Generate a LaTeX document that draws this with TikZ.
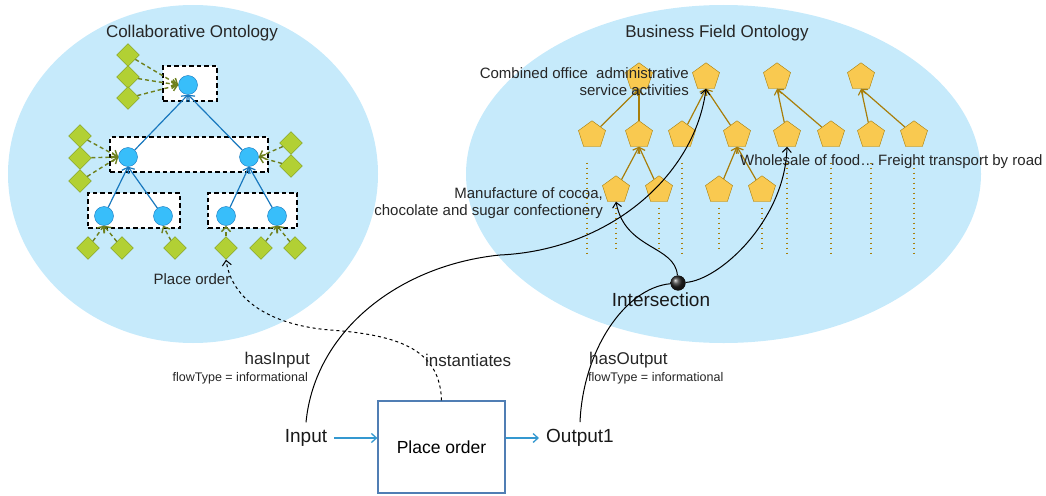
\documentclass[tikz,border=0pt]{standalone}
\usepackage{fontspec}
\setmainfont{Liberation Sans}
\usepackage{tikz}
\usepackage{xcolor}
\usetikzlibrary{shapes.geometric, arrows.meta, positioning, calc}
\definecolor{cSky}{RGB}{198,234,251}
\definecolor{cConcept}{RGB}{56,190,250}
\definecolor{cConceptLine}{RGB}{24,120,190}
\definecolor{cMember}{RGB}{178,208,52}
\definecolor{cMemberLine}{RGB}{122,150,28}
\definecolor{cOlive}{RGB}{110,128,30}
\definecolor{cSector}{RGB}{249,201,80}
\definecolor{cSectorLine}{RGB}{168,126,10}
\definecolor{cFlow}{RGB}{52,152,208}
\definecolor{cTask}{RGB}{80,126,180}
\tikzset{
	ontology/.style   ={ellipse, fill=cSky, draw=none, inner sep=0pt},
	grpbox/.style     ={rectangle, draw=black, line width=1.1pt, dash pattern=on 4.5pt off 3pt, fill=white, minimum height=35pt, inner sep=0pt},
	concept/.style    ={circle, draw=cConceptLine, fill=cConcept, minimum size=19pt, inner sep=0pt},
	member/.style     ={diamond, draw=cMemberLine, fill=cMember, minimum size=23pt, inner sep=0pt},
	sector/.style     ={regular polygon, regular polygon sides=5, draw=cSectorLine, fill=cSector, minimum size=28.5pt, inner sep=0pt},
	isectdot/.style   ={circle, minimum size=15pt, inner sep=0pt, shading=ball, ball color=black!85},
	task/.style       ={rectangle, draw=cTask, line width=1.2pt, minimum width=127pt, minimum height=92pt, align=center},
	% connectors
	subarrow/.style   ={draw=cConceptLine, line width=1.2pt, -{Straight Barb[length=5pt, width=8pt]}},
	instarrow/.style  ={draw=cOlive, line width=1.4pt, dash pattern=on 4pt off 3pt, -{Straight Barb[length=5pt, width=9pt]}},
	sectorarrow/.style={draw=cSectorLine, line width=1.2pt, -{Straight Barb[length=5pt, width=8pt]}},
	leafline/.style   ={draw=cSectorLine, line width=1.6pt, dash pattern=on 1.6pt off 3.4pt},
	relline/.style    ={draw=black, line width=1pt},
	relarrow/.style   ={draw=black, line width=1pt, -{Straight Barb[length=5pt, width=9pt]}},
	flowsig/.style    ={draw=cFlow, line width=1.3pt, -{Straight Barb[length=5pt, width=9pt]}},
	% texts
	titletxt/.style   ={font=\fontsize{17}{20}\selectfont, text=black!85},
	tagtxt/.style     ={font=\fontsize{15}{17}\selectfont, text=black!85, inner sep=0pt},
	iotxt/.style      ={font=\fontsize{19}{22}\selectfont, text=black!90, inner sep=7pt},
	reltxt/.style     ={font=\fontsize{17}{20}\selectfont, text=black!85, inner sep=0pt},
	smalltxt/.style   ={font=\fontsize{12.5}{15}\selectfont, text=black!85, inner sep=0pt},
}

\begin{document}
\begin{tikzpicture}[x=1pt, y=-1pt]
	\useasboundingbox (0,0) rectangle (1046,495);
	% the two ontologies
	\node[ontology, minimum width=370pt, minimum height=338pt] (colOnt) at (193,174) {};
	\node[ontology, minimum width=515pt, minimum height=338pt] (bizOnt) at (723.5,174) {};
	\node[titletxt] (colTitle) at (192,33) {Collaborative Ontology};
	\node[titletxt] (bizTitle) at (717,33) {Business Field Ontology};

	% collaborative ontology: groups, concepts, members
	\node[grpbox, minimum width=54pt]  (grpTop)  at (190,83.5) {};
	\node[grpbox, minimum width=158pt] (grpMid)  at (189,154.5) {};
	\node[grpbox, minimum width=92pt]  (grpLowL) at (134,210.5) {};
	\node[grpbox, minimum width=89pt]  (grpLowR) at (252.5,210.5) {};
	\node[concept] (conTop) at (188,85) {};
	\node[concept] (conL)   at (128,157) {};
	\node[concept] (conR)   at (249,157) {};
	\node[concept] (conLL)  at (104,216) {};
	\node[concept] (conLR)  at (163,216) {};
	\node[concept] (conRL)  at (226,216) {};
	\node[concept] (conRR)  at (277,216) {};
	\draw[subarrow] (conL)  -- (conTop.south);
	\draw[subarrow] (conR)  -- (conTop.south);
	\draw[subarrow] (conLL) -- (conL.south);
	\draw[subarrow] (conLR) -- (conL.south);
	\draw[subarrow] (conRL) -- (conR.south);
	\draw[subarrow] (conRR) -- (conR.south);

	\node[member] (memT1) at (128,55) {};
	\node[member] (memT2) at (128,77) {};
	\node[member] (memT3) at (128,98) {};
	\node[member] (memL1) at (80,136) {};
	\node[member] (memL2) at (80,158) {};
	\node[member] (memL3) at (80,181) {};
	\node[member] (memR1) at (291,143) {};
	\node[member] (memR2) at (291,166) {};
	\node[member] (memB1) at (88,248) {};
	\node[member] (memB2) at (122,248) {};
	\node[member] (memB3) at (175,248) {};
	\node[member] (memB4) at (226,248) {};
	\node[member] (memB5) at (261,248) {};
	\node[member] (memB6) at (295,248) {};
	\draw[instarrow] (memT1) -- (conTop.west);
	\draw[instarrow] (memT2) -- (conTop.west);
	\draw[instarrow] (memT3) -- (conTop.west);
	\draw[instarrow] (memL1) -- (conL.west);
	\draw[instarrow] (memL2) -- (conL.west);
	\draw[instarrow] (memL3) -- (conL.west);
	\draw[instarrow] (memR1) -- (conR.east);
	\draw[instarrow] (memR2) -- (conR.east);
	\draw[instarrow] (memB1) -- (conLL.south);
	\draw[instarrow] (memB2) -- (conLL.south);
	\draw[instarrow] (memB3) -- (conLR.south);
	\draw[instarrow] (memB4) -- (conRL.south);
	\draw[instarrow] (memB5) -- (conRR.south);
	\draw[instarrow] (memB6) -- (conRR.south);
	\node[tagtxt] (memName) at (192,279) {Place order};

	% business field ontology: sectors
	\node[sector] (bizA) at (639,77) {};
	\node[sector] (bizB) at (706,77) {};
	\node[sector] (bizC) at (777,77) {};
	\node[sector] (bizD) at (861,77) {};
	\node[sector] (bizA1) at (592,135) {};
	\node[sector] (bizA2) at (639,135) {};
	\node[sector] (bizB1) at (682,135) {};
	\node[sector] (bizB2) at (737,135) {};
	\node[sector] (bizC1) at (787,135) {};
	\node[sector] (bizC2) at (831,135) {};
	\node[sector] (bizD1) at (871,135) {};
	\node[sector] (bizD2) at (914,135) {};
	\node[sector] (bizA21) at (616,190) {};
	\node[sector] (bizA22) at (659,190) {};
	\node[sector] (bizB21) at (719,190) {};
	\node[sector] (bizB22) at (762,190) {};
	\draw[sectorarrow] (bizA1) -- (bizA.south);
	\draw[sectorarrow] (bizA2) -- (bizA.south);
	\draw[sectorarrow] (bizB1) -- (bizB.south);
	\draw[sectorarrow] (bizB2) -- (bizB.south);
	\draw[sectorarrow] (bizC1) -- (bizC.south);
	\draw[sectorarrow] (bizC2) -- (bizC.south);
	\draw[sectorarrow] (bizD1) -- (bizD.south);
	\draw[sectorarrow] (bizD2) -- (bizD.south);
	\draw[sectorarrow] (bizA21) -- (bizA2.south);
	\draw[sectorarrow] (bizA22) -- (bizA2.south);
	\draw[sectorarrow] (bizB21) -- (bizB2.south);
	\draw[sectorarrow] (bizB22) -- (bizB2.south);
	% leaves below the sectors
	\draw[leafline] ($(bizA1.south)+(-5,16)$) -- ++(0,94);
	\draw[leafline] ($(bizB1.south)+(0,16)$) -- ++(0,94);
	\draw[leafline] ($(bizC1.south)+(0,16)$) -- ++(0,92);
	\draw[leafline] ($(bizC2.south)+(0,16)$) -- ++(0,92);
	\draw[leafline] ($(bizD1.south)+(0,16)$) -- ++(0,92);
	\draw[leafline] ($(bizD2.south)+(0,16)$) -- ++(0,92);
	\draw[leafline] ($(bizA21.south)+(0,6)$) -- ++(0,44);
	\draw[leafline] ($(bizA22.south)+(0,6)$) -- ++(0,44);
	\draw[leafline] ($(bizB21.south)+(0,6)$) -- ++(0,44);
	\draw[leafline] ($(bizB22.south)+(0,6)$) -- ++(0,44);
	\node[tagtxt, align=right, anchor=east] (nameA) at (689,81.5) {Combined office\ \ administrative\\service activities};
	\node[tagtxt, align=right, anchor=east] (nameA21) at (603,203.5) {Manufacture of cocoa,\\chocolate and sugar confectionery};
	\node[tagtxt, anchor=west] (nameC1) at (740,160) {Wholesale of food…};
	\node[tagtxt, anchor=west] (nameD) at (878,162) {Freight transport by road};

	% process with its input and output
	\node[task, font=\fontsize{17.5}{20}\selectfont] (order) at (441.5,447) {Place order};
	\node[iotxt] (in)  at (306,438) {Input};
	\node[iotxt] (out) at (580,438) {Output1};
	\draw[flowsig] (in.east) -- (in.east -| order.west);
	\draw[flowsig] (order.east |- out.west) -- (out.west);

	% relations into the ontologies
	\node[isectdot] (isect) at (678,283) {};
	\node[iotxt, inner sep=0pt] (isectName) at (661,300) {Intersection};
	\draw[relarrow] (in.north) .. controls (315,330) and (400,265) .. (500,255)
		.. controls (610,250) and (695,175) .. (bizB.south);
	\draw[relline] (out.north) .. controls (583,350) and (625,288) .. (isect);
	\draw[relarrow] (isect) .. controls (720,280) and (785,220) .. (bizC1.south);
	\draw[relarrow] (isect) .. controls (675,245) and (625,250) .. (bizA21.south);
	\node[isectdot] at (isect) {};
	\draw[relarrow, dashed] (order.north) .. controls (440,350) and (400,335) .. (330,330)
		.. controls (270,325) and (232,300) .. (memB4.south);
	\node[reltxt, anchor=east] (hasIn) at (310,360) {hasInput};
	\node[smalltxt, anchor=east] (hasInType) at (308,378) {flowType = informational};
	\node[reltxt, anchor=west] (inst) at (425,360) {instantiates};
	\node[reltxt, anchor=west] (hasOut) at (589,360) {hasOutput};
	\node[smalltxt, anchor=west] (hasOutType) at (588,378) {flowType = informational};
\end{tikzpicture}
\end{document}
